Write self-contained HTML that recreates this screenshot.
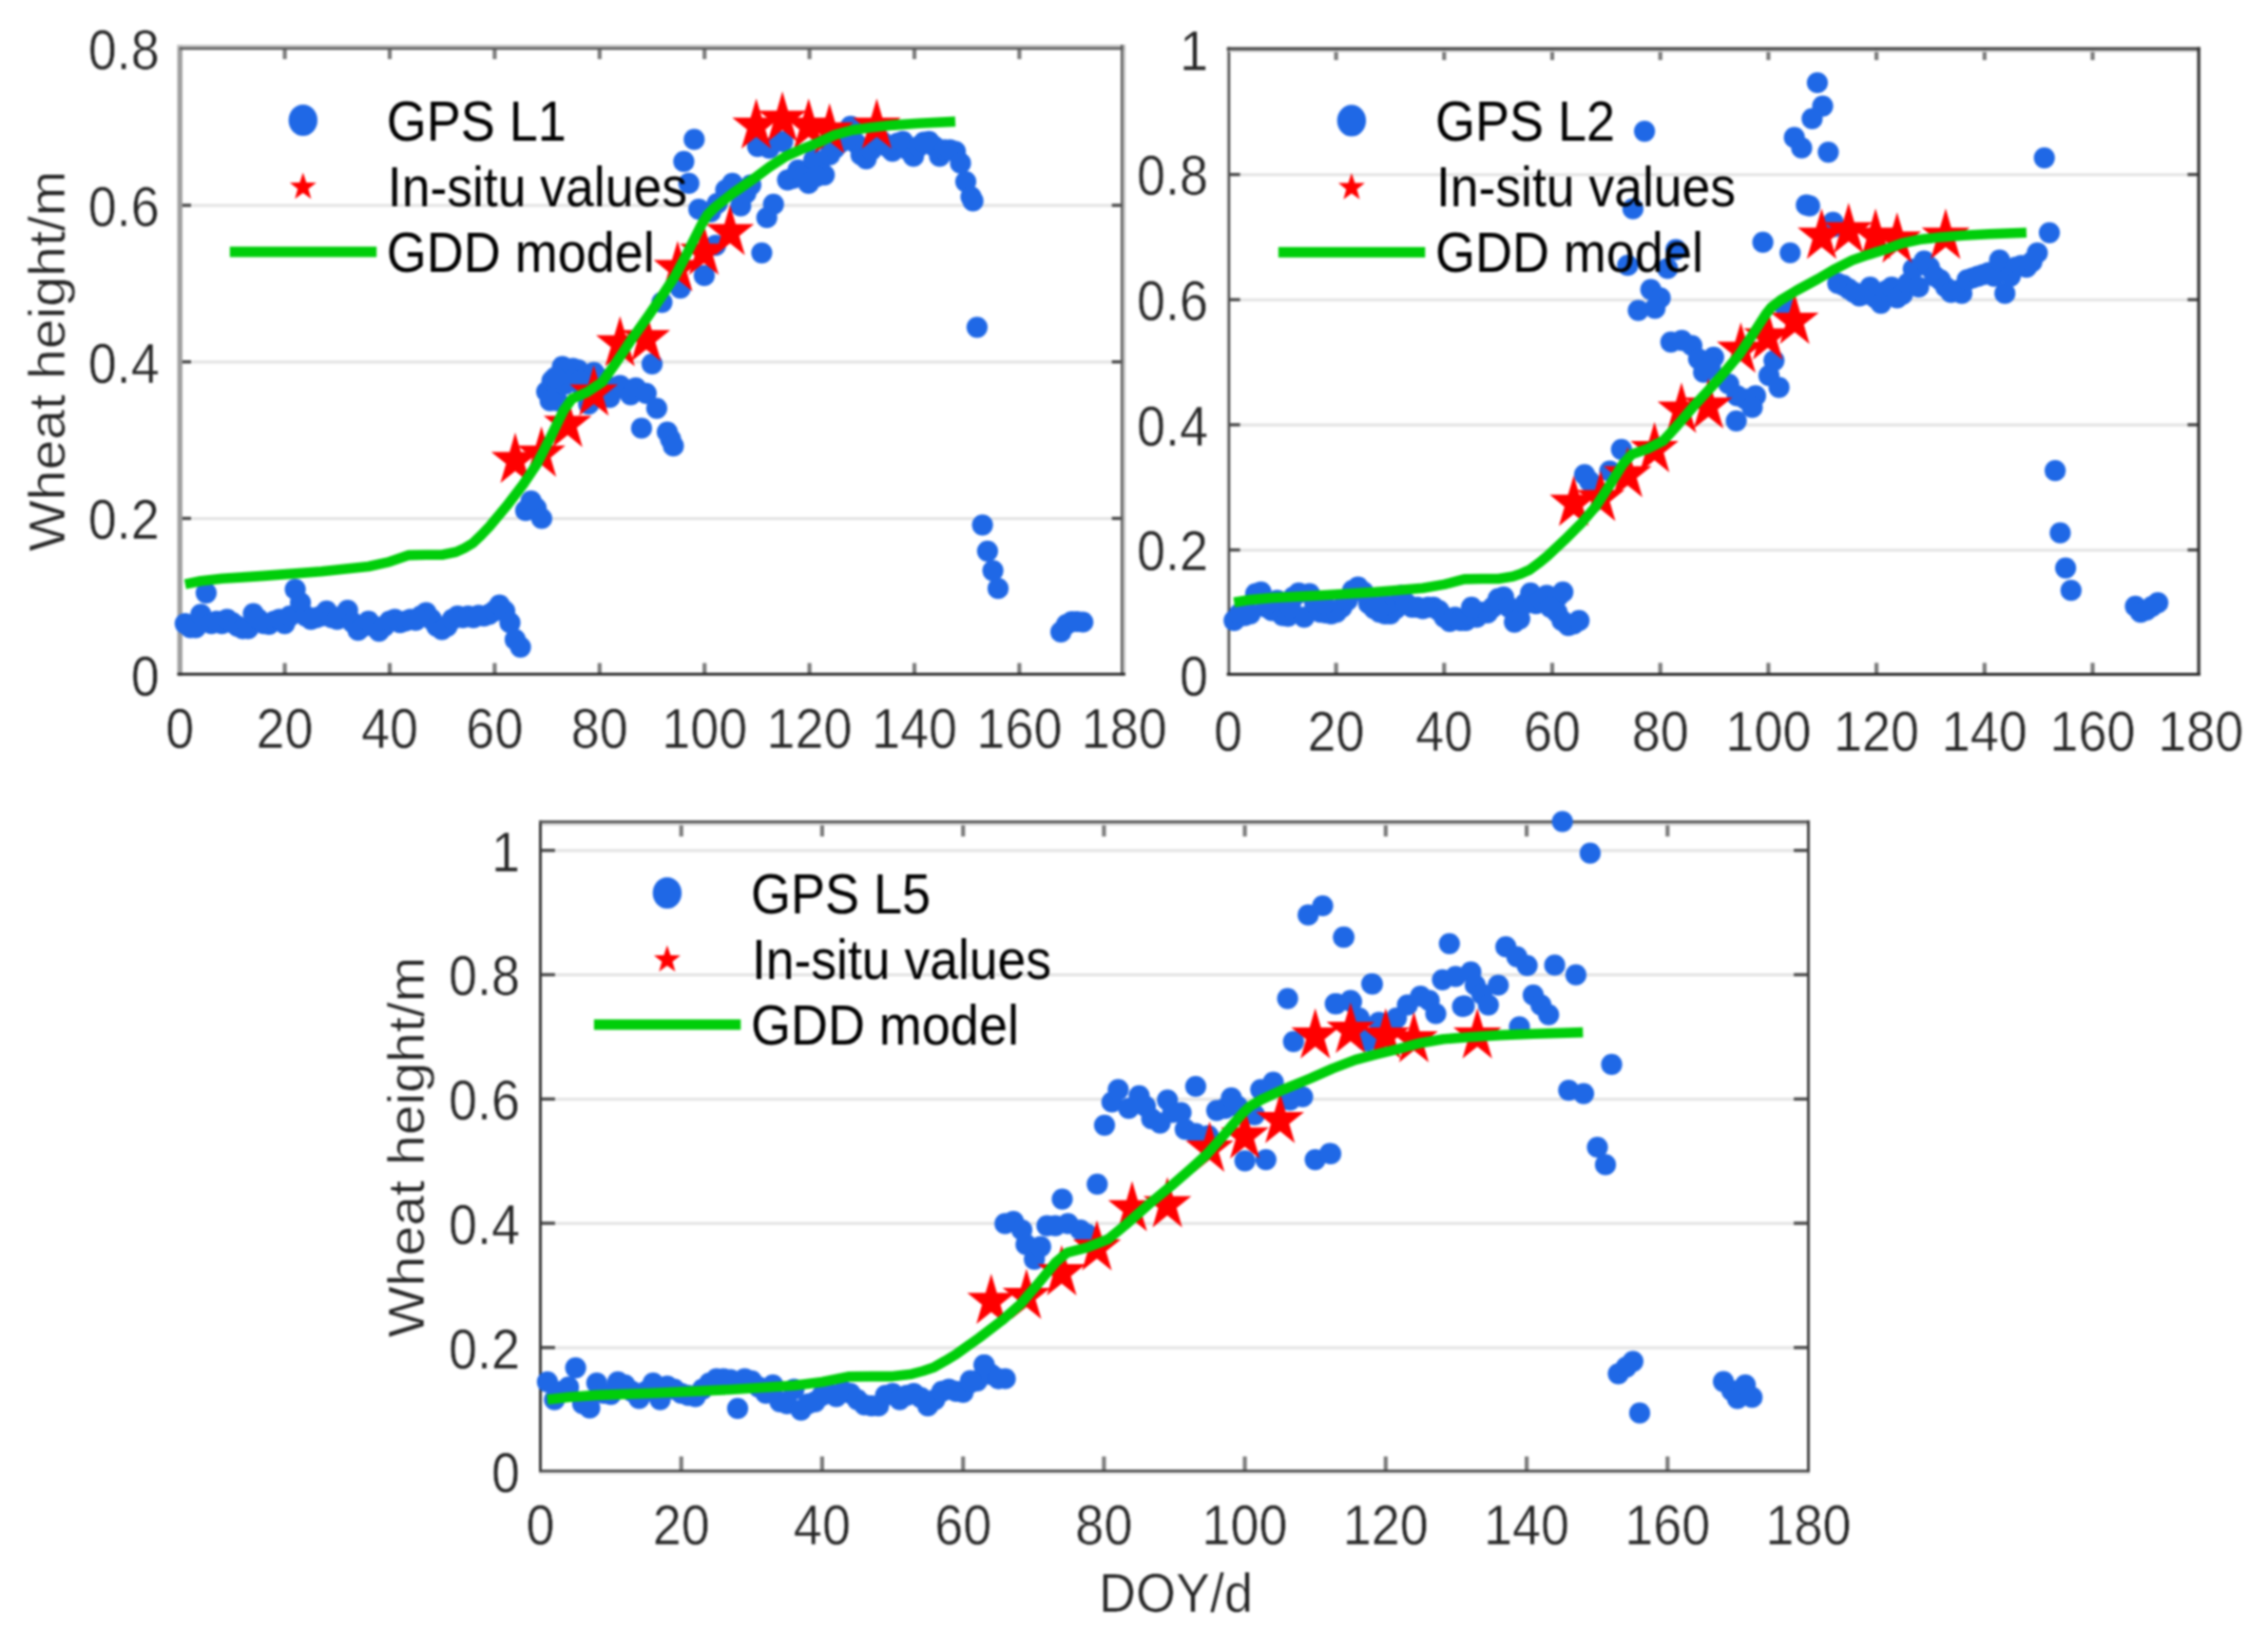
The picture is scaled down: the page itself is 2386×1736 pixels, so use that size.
<!DOCTYPE html>
<html><head><meta charset="utf-8"><title>Wheat height</title>
<style>html,body{margin:0;padding:0;background:#fff}svg{display:block;filter:blur(0.8px)}</style></head>
<body>
<svg width="2386" height="1736" viewBox="0 0 2386 1736" font-family="Liberation Sans, sans-serif" font-size="54">
<rect x="189.3" y="544.0" width="992.1" height="3.2" fill="#e4e4e4"/>
<rect x="189.3" y="379.3" width="992.1" height="3.2" fill="#e4e4e4"/>
<rect x="189.3" y="214.6" width="992.1" height="3.2" fill="#e4e4e4"/>
<g stroke="#7a7a7a" stroke-width="4.2">
<line x1="299.6" y1="709.3" x2="299.6" y2="697.6"/>
<line x1="299.6" y1="50.5" x2="299.6" y2="62.2"/>
<line x1="410.0" y1="709.3" x2="410.0" y2="697.6"/>
<line x1="410.0" y1="50.5" x2="410.0" y2="62.2"/>
<line x1="520.4" y1="709.3" x2="520.4" y2="697.6"/>
<line x1="520.4" y1="50.5" x2="520.4" y2="62.2"/>
<line x1="630.8" y1="709.3" x2="630.8" y2="697.6"/>
<line x1="630.8" y1="50.5" x2="630.8" y2="62.2"/>
<line x1="741.2" y1="709.3" x2="741.2" y2="697.6"/>
<line x1="741.2" y1="50.5" x2="741.2" y2="62.2"/>
<line x1="851.6" y1="709.3" x2="851.6" y2="697.6"/>
<line x1="851.6" y1="50.5" x2="851.6" y2="62.2"/>
<line x1="962.0" y1="709.3" x2="962.0" y2="697.6"/>
<line x1="962.0" y1="50.5" x2="962.0" y2="62.2"/>
<line x1="1072.4" y1="709.3" x2="1072.4" y2="697.6"/>
<line x1="1072.4" y1="50.5" x2="1072.4" y2="62.2"/>
</g><g stroke="#4a4a4a" stroke-width="3.4">
<line x1="189.3" y1="545.4" x2="201.0" y2="545.4"/>
<line x1="1181.4" y1="545.4" x2="1169.7" y2="545.4"/>
<line x1="189.3" y1="380.7" x2="201.0" y2="380.7"/>
<line x1="1181.4" y1="380.7" x2="1169.7" y2="380.7"/>
<line x1="189.3" y1="216.0" x2="201.0" y2="216.0"/>
<line x1="1181.4" y1="216.0" x2="1169.7" y2="216.0"/>
</g>
<rect x="186.6" y="47.1" width="5.3" height="664.0" fill="#9e9e9e"/>
<rect x="186.6" y="47.1" width="997.3" height="2.6" fill="#c4c4c4"/>
<rect x="189.0" y="49.7" width="994.9" height="2.7" fill="#555"/>
<rect x="1179.0" y="47.1" width="2.6" height="663.7" fill="#555"/>
<rect x="1181.6" y="47.1" width="2.3" height="663.7" fill="#bdbdbd"/>
<rect x="186.6" y="707.8" width="997.3" height="3.0" fill="#2a2a2a"/>
<g fill="#1f68e6">
<circle cx="194.8" cy="656.1" r="11.1"/>
<circle cx="200.3" cy="660.5" r="11.1"/>
<circle cx="205.8" cy="660.5" r="11.1"/>
<circle cx="211.3" cy="646.4" r="11.1"/>
<circle cx="216.9" cy="623.8" r="11.1"/>
<circle cx="222.4" cy="656.1" r="11.1"/>
<circle cx="227.9" cy="653.5" r="11.1"/>
<circle cx="233.4" cy="656.1" r="11.1"/>
<circle cx="238.9" cy="651.7" r="11.1"/>
<circle cx="244.4" cy="655.2" r="11.1"/>
<circle cx="249.9" cy="658.8" r="11.1"/>
<circle cx="255.4" cy="661.4" r="11.1"/>
<circle cx="261.0" cy="661.4" r="11.1"/>
<circle cx="266.5" cy="645.5" r="11.1"/>
<circle cx="272.0" cy="651.7" r="11.1"/>
<circle cx="277.5" cy="656.1" r="11.1"/>
<circle cx="283.0" cy="657.0" r="11.1"/>
<circle cx="288.5" cy="653.5" r="11.1"/>
<circle cx="294.0" cy="651.7" r="11.1"/>
<circle cx="299.5" cy="656.1" r="11.1"/>
<circle cx="305.0" cy="648.2" r="11.1"/>
<circle cx="310.6" cy="620.0" r="11.1"/>
<circle cx="316.1" cy="634.1" r="11.1"/>
<circle cx="321.6" cy="648.2" r="11.1"/>
<circle cx="327.1" cy="651.7" r="11.1"/>
<circle cx="332.6" cy="649.9" r="11.1"/>
<circle cx="338.1" cy="648.2" r="11.1"/>
<circle cx="343.6" cy="642.9" r="11.1"/>
<circle cx="349.1" cy="649.9" r="11.1"/>
<circle cx="354.7" cy="651.7" r="11.1"/>
<circle cx="360.2" cy="648.2" r="11.1"/>
<circle cx="365.7" cy="642.0" r="11.1"/>
<circle cx="371.2" cy="655.2" r="11.1"/>
<circle cx="376.7" cy="663.2" r="11.1"/>
<circle cx="382.2" cy="658.8" r="11.1"/>
<circle cx="387.7" cy="653.5" r="11.1"/>
<circle cx="393.2" cy="658.8" r="11.1"/>
<circle cx="398.7" cy="664.1" r="11.1"/>
<circle cx="404.3" cy="658.8" r="11.1"/>
<circle cx="409.8" cy="653.5" r="11.1"/>
<circle cx="415.3" cy="651.7" r="11.1"/>
<circle cx="420.8" cy="655.2" r="11.1"/>
<circle cx="426.3" cy="653.5" r="11.1"/>
<circle cx="431.8" cy="651.7" r="11.1"/>
<circle cx="437.3" cy="652.6" r="11.1"/>
<circle cx="442.8" cy="648.2" r="11.1"/>
<circle cx="448.3" cy="644.7" r="11.1"/>
<circle cx="453.9" cy="651.7" r="11.1"/>
<circle cx="459.4" cy="658.8" r="11.1"/>
<circle cx="464.9" cy="662.3" r="11.1"/>
<circle cx="470.4" cy="658.8" r="11.1"/>
<circle cx="475.9" cy="651.7" r="11.1"/>
<circle cx="481.4" cy="648.2" r="11.1"/>
<circle cx="486.9" cy="649.9" r="11.1"/>
<circle cx="492.4" cy="648.2" r="11.1"/>
<circle cx="498.0" cy="649.9" r="11.1"/>
<circle cx="503.5" cy="647.3" r="11.1"/>
<circle cx="509.0" cy="648.2" r="11.1"/>
<circle cx="514.5" cy="646.4" r="11.1"/>
<circle cx="520.0" cy="642.9" r="11.1"/>
<circle cx="525.5" cy="636.7" r="11.1"/>
<circle cx="531.0" cy="642.9" r="11.1"/>
<circle cx="536.5" cy="655.2" r="11.1"/>
<circle cx="542.0" cy="672.9" r="11.1"/>
<circle cx="547.6" cy="680.8" r="11.1"/>
<circle cx="553.0" cy="537.2" r="11.1"/>
<circle cx="558.7" cy="527.2" r="11.1"/>
<circle cx="564.1" cy="534.6" r="11.1"/>
<circle cx="569.9" cy="545.5" r="11.1"/>
<circle cx="575.1" cy="412.0" r="11.1"/>
<circle cx="580.7" cy="400.5" r="11.1"/>
<circle cx="586.2" cy="421.7" r="11.1"/>
<circle cx="591.6" cy="385.7" r="11.1"/>
<circle cx="597.1" cy="388.2" r="11.1"/>
<circle cx="602.8" cy="387.5" r="11.1"/>
<circle cx="608.2" cy="389.1" r="11.1"/>
<circle cx="613.7" cy="411.1" r="11.1"/>
<circle cx="619.3" cy="425.2" r="11.1"/>
<circle cx="624.8" cy="391.9" r="11.1"/>
<circle cx="630.3" cy="397.9" r="11.1"/>
<circle cx="635.7" cy="414.7" r="11.1"/>
<circle cx="641.4" cy="418.2" r="11.1"/>
<circle cx="646.8" cy="407.6" r="11.1"/>
<circle cx="652.3" cy="405.5" r="11.1"/>
<circle cx="657.8" cy="409.4" r="11.1"/>
<circle cx="663.4" cy="415.5" r="11.1"/>
<circle cx="668.9" cy="408.0" r="11.1"/>
<circle cx="674.9" cy="450.5" r="11.1"/>
<circle cx="679.8" cy="413.8" r="11.1"/>
<circle cx="686.0" cy="382.9" r="11.1"/>
<circle cx="690.9" cy="429.6" r="11.1"/>
<circle cx="702.0" cy="454.5" r="11.1"/>
<circle cx="705.4" cy="461.9" r="11.1"/>
<circle cx="708.4" cy="469.2" r="11.1"/>
<circle cx="585.8" cy="409.4" r="11.1"/>
<circle cx="594.6" cy="404.1" r="11.1"/>
<circle cx="603.5" cy="398.8" r="11.1"/>
<circle cx="578.8" cy="421.7" r="11.1"/>
<circle cx="584.1" cy="397.0" r="11.1"/>
<circle cx="610.5" cy="400.5" r="11.1"/>
<circle cx="730.3" cy="146.7" r="11.1"/>
<circle cx="719.4" cy="169.9" r="11.1"/>
<circle cx="724.7" cy="192.9" r="11.1"/>
<circle cx="735.2" cy="220.2" r="11.1"/>
<circle cx="747.6" cy="222.9" r="11.1"/>
<circle cx="754.6" cy="214.0" r="11.1"/>
<circle cx="763.5" cy="199.9" r="11.1"/>
<circle cx="770.5" cy="192.9" r="11.1"/>
<circle cx="779.3" cy="216.7" r="11.1"/>
<circle cx="789.9" cy="194.6" r="11.1"/>
<circle cx="784.6" cy="203.5" r="11.1"/>
<circle cx="813.7" cy="214.9" r="11.1"/>
<circle cx="806.7" cy="229.0" r="11.1"/>
<circle cx="801.4" cy="266.1" r="11.1"/>
<circle cx="740.9" cy="289.9" r="11.1"/>
<circle cx="715.8" cy="303.1" r="11.1"/>
<circle cx="696.4" cy="318.1" r="11.1"/>
<circle cx="752.9" cy="258.1" r="11.1"/>
<circle cx="797.0" cy="154.1" r="11.1"/>
<circle cx="809.3" cy="155.8" r="11.1"/>
<circle cx="823.4" cy="148.8" r="11.1"/>
<circle cx="874.6" cy="157.6" r="11.1"/>
<circle cx="828.5" cy="189.3" r="11.1"/>
<circle cx="834.2" cy="187.6" r="11.1"/>
<circle cx="839.6" cy="178.8" r="11.1"/>
<circle cx="845.1" cy="185.8" r="11.1"/>
<circle cx="850.6" cy="192.9" r="11.1"/>
<circle cx="856.2" cy="168.2" r="11.1"/>
<circle cx="861.7" cy="175.2" r="11.1"/>
<circle cx="867.2" cy="184.1" r="11.1"/>
<circle cx="872.8" cy="162.9" r="11.1"/>
<circle cx="858.7" cy="185.8" r="11.1"/>
<circle cx="878.3" cy="155.8" r="11.1"/>
<circle cx="883.7" cy="150.5" r="11.1"/>
<circle cx="889.2" cy="147.0" r="11.1"/>
<circle cx="894.9" cy="132.9" r="11.1"/>
<circle cx="900.3" cy="150.5" r="11.1"/>
<circle cx="905.8" cy="162.9" r="11.1"/>
<circle cx="911.3" cy="167.1" r="11.1"/>
<circle cx="916.9" cy="157.6" r="11.1"/>
<circle cx="922.4" cy="150.5" r="11.1"/>
<circle cx="927.8" cy="148.8" r="11.1"/>
<circle cx="933.3" cy="154.1" r="11.1"/>
<circle cx="938.9" cy="159.2" r="11.1"/>
<circle cx="944.4" cy="150.5" r="11.1"/>
<circle cx="949.9" cy="148.8" r="11.1"/>
<circle cx="955.3" cy="157.6" r="11.1"/>
<circle cx="961.0" cy="164.5" r="11.1"/>
<circle cx="966.5" cy="154.1" r="11.1"/>
<circle cx="971.9" cy="149.7" r="11.1"/>
<circle cx="977.4" cy="148.8" r="11.1"/>
<circle cx="983.0" cy="154.1" r="11.1"/>
<circle cx="988.5" cy="164.5" r="11.1"/>
<circle cx="994.0" cy="157.6" r="11.1"/>
<circle cx="999.4" cy="157.6" r="11.1"/>
<circle cx="1005.1" cy="159.4" r="11.1"/>
<circle cx="1010.5" cy="171.7" r="11.1"/>
<circle cx="1016.0" cy="191.1" r="11.1"/>
<circle cx="1021.5" cy="207.0" r="11.1"/>
<circle cx="1023.6" cy="211.4" r="11.1"/>
<circle cx="1027.9" cy="344.3" r="11.1"/>
<circle cx="1033.6" cy="552.3" r="11.1"/>
<circle cx="1038.9" cy="579.8" r="11.1"/>
<circle cx="1044.6" cy="600.3" r="11.1"/>
<circle cx="1050.0" cy="619.2" r="11.1"/>
<circle cx="1116.1" cy="664.9" r="11.1"/>
<circle cx="1122.0" cy="657.0" r="11.1"/>
<circle cx="1127.5" cy="654.0" r="11.1"/>
<circle cx="1133.0" cy="654.0" r="11.1"/>
<circle cx="1139.2" cy="654.5" r="11.1"/>
</g>
<g fill="#ff0000">
<polygon points="542.0,455.1 548.0,475.4 567.3,475.4 551.7,488.0 557.7,508.3 542.0,495.7 526.4,508.3 532.4,488.0 516.7,475.4 536.1,475.4"/>
<polygon points="569.6,448.5 575.6,468.8 594.9,468.8 579.3,481.4 585.2,501.7 569.6,489.1 554.0,501.7 559.9,481.4 544.3,468.8 563.6,468.8"/>
<polygon points="597.2,417.2 603.1,437.5 622.5,437.5 606.8,450.1 612.8,470.4 597.2,457.8 581.5,470.4 587.5,450.1 571.9,437.5 591.2,437.5"/>
<polygon points="624.7,384.3 630.7,404.6 650.0,404.6 634.4,417.1 640.4,437.4 624.7,424.9 609.1,437.4 615.1,417.1 599.4,404.6 618.7,404.6"/>
<polygon points="652.3,332.4 658.3,352.7 677.6,352.7 661.9,365.3 667.9,385.6 652.3,373.0 636.6,385.6 642.6,365.3 627.0,352.7 646.3,352.7"/>
<polygon points="679.8,327.0 685.8,347.3 705.1,347.3 689.5,359.9 695.5,380.2 679.8,367.7 664.2,380.2 670.2,359.9 654.5,347.3 673.9,347.3"/>
<polygon points="712.9,253.3 718.9,273.6 738.2,273.6 722.6,286.2 728.5,306.5 712.9,294.0 697.3,306.5 703.2,286.2 687.6,273.6 706.9,273.6"/>
<polygon points="740.5,236.0 746.4,256.3 765.8,256.4 750.1,268.9 756.1,289.2 740.5,276.7 724.8,289.2 730.8,268.9 715.2,256.4 734.5,256.3"/>
<polygon points="768.0,215.5 774.0,235.8 793.3,235.8 777.7,248.3 783.7,268.6 768.0,256.1 752.4,268.6 758.4,248.3 742.7,235.8 762.1,235.8"/>
<polygon points="795.6,103.5 801.6,123.8 820.9,123.8 805.2,136.3 811.2,156.6 795.6,144.1 779.9,156.6 785.9,136.3 770.3,123.8 789.6,123.8"/>
<polygon points="823.1,96.0 829.1,116.4 848.4,116.4 832.8,128.9 838.8,149.2 823.1,136.7 807.5,149.2 813.5,128.9 797.8,116.4 817.2,116.4"/>
<polygon points="850.7,103.5 856.7,123.8 876.0,123.8 860.4,136.3 866.3,156.6 850.7,144.1 835.1,156.6 841.0,136.3 825.4,123.8 844.7,123.8"/>
<polygon points="872.7,108.4 878.7,128.7 898.0,128.7 882.4,141.3 888.4,161.6 872.7,149.0 857.1,161.6 863.1,141.3 847.4,128.7 866.8,128.7"/>
<polygon points="922.4,103.5 928.3,123.8 947.6,123.8 932.0,136.3 938.0,156.6 922.4,144.1 906.7,156.6 912.7,136.3 897.1,123.8 916.4,123.8"/>
</g>
<polyline points="194.8,614.6 211.3,611.3 233.4,608.7 277.5,605.9 338.1,601.3 387.7,596.0 409.8,591.1 430.2,584.1 448.3,583.7 464.9,583.7 479.8,580.7 488.6,576.7 497.4,571.5 506.2,563.1 515.0,553.9 532.7,532.7 550.3,509.8 564.6,488.5 579.0,460.4 592.8,432.1 601.6,419.7 617.6,412.7 633.5,402.1 647.3,382.7 665.0,356.3 682.6,331.6 698.0,309.0 710.7,289.6 722.8,266.7 731.6,249.0 738.8,234.9 744.3,226.1 753.1,217.3 770.2,203.9 791.7,188.9 809.4,175.7 827.0,164.3 843.0,157.2 860.6,150.1 877.7,142.1 895.9,137.0 915.2,134.3 940.0,131.6 966.4,129.8 1005.0,127.9" fill="none" stroke="#00ce0a" stroke-width="10.6" stroke-linejoin="round"/>
<text transform="translate(189.2,786.5) scale(1,1.100)" text-anchor="middle" fill="#262626" stroke="#fff" stroke-width="0.55">0</text>
<text transform="translate(299.6,786.5) scale(1,1.100)" text-anchor="middle" fill="#262626" stroke="#fff" stroke-width="0.55">20</text>
<text transform="translate(410.0,786.5) scale(1,1.100)" text-anchor="middle" fill="#262626" stroke="#fff" stroke-width="0.55">40</text>
<text transform="translate(520.4,786.5) scale(1,1.100)" text-anchor="middle" fill="#262626" stroke="#fff" stroke-width="0.55">60</text>
<text transform="translate(630.8,786.5) scale(1,1.100)" text-anchor="middle" fill="#262626" stroke="#fff" stroke-width="0.55">80</text>
<text transform="translate(741.2,786.5) scale(1,1.100)" text-anchor="middle" fill="#262626" stroke="#fff" stroke-width="0.55">100</text>
<text transform="translate(851.6,786.5) scale(1,1.100)" text-anchor="middle" fill="#262626" stroke="#fff" stroke-width="0.55">120</text>
<text transform="translate(962.0,786.5) scale(1,1.100)" text-anchor="middle" fill="#262626" stroke="#fff" stroke-width="0.55">140</text>
<text transform="translate(1072.4,786.5) scale(1,1.100)" text-anchor="middle" fill="#262626" stroke="#fff" stroke-width="0.55">160</text>
<text transform="translate(1182.8,786.5) scale(1,1.100)" text-anchor="middle" fill="#262626" stroke="#fff" stroke-width="0.55">180</text>
<text transform="translate(167.8,731.9) scale(1,1.100)" text-anchor="end" fill="#262626" stroke="#fff" stroke-width="0.55">0</text>
<text transform="translate(167.8,567.2) scale(1,1.100)" text-anchor="end" fill="#262626" stroke="#fff" stroke-width="0.55">0.2</text>
<text transform="translate(167.8,402.5) scale(1,1.100)" text-anchor="end" fill="#262626" stroke="#fff" stroke-width="0.55">0.4</text>
<text transform="translate(167.8,237.8) scale(1,1.100)" text-anchor="end" fill="#262626" stroke="#fff" stroke-width="0.55">0.6</text>
<text transform="translate(167.8,73.1) scale(1,1.100)" text-anchor="end" fill="#262626" stroke="#fff" stroke-width="0.55">0.8</text>
<ellipse cx="318.8" cy="126.5" rx="15.2" ry="16.6" fill="#1f68e6"/>
<polygon points="318.8,181.6 322.3,192.0 332.8,192.2 324.4,198.8 327.4,209.3 318.8,203.0 310.2,209.3 313.2,198.8 304.8,192.2 315.3,192.0" fill="#ff0000"/>
<rect x="241.8" y="259.5" width="154.4" height="11" fill="#00ce0a"/>
<text transform="translate(406.8,147.7) scale(1,1.100)" text-anchor="start" fill="#000">GPS L1</text>
<text transform="translate(407.8,216.7) scale(1,1.110)" text-anchor="start" fill="#000" font-size="53.5">In-situ values</text>
<text transform="translate(406.8,286.0) scale(1,1.100)" text-anchor="start" fill="#000">GDD model</text>
<rect x="1292.6" y="577.2" width="1020.8" height="3.2" fill="#e4e4e4"/>
<rect x="1292.6" y="445.5" width="1020.8" height="3.2" fill="#e4e4e4"/>
<rect x="1292.6" y="313.9" width="1020.8" height="3.2" fill="#e4e4e4"/>
<rect x="1292.6" y="182.2" width="1020.8" height="3.2" fill="#e4e4e4"/>
<g stroke="#7a7a7a" stroke-width="4.2">
<line x1="1405.6" y1="709.4" x2="1405.6" y2="697.4"/>
<line x1="1405.6" y1="51.2" x2="1405.6" y2="63.2"/>
<line x1="1519.3" y1="709.4" x2="1519.3" y2="697.4"/>
<line x1="1519.3" y1="51.2" x2="1519.3" y2="63.2"/>
<line x1="1633.0" y1="709.4" x2="1633.0" y2="697.4"/>
<line x1="1633.0" y1="51.2" x2="1633.0" y2="63.2"/>
<line x1="1746.7" y1="709.4" x2="1746.7" y2="697.4"/>
<line x1="1746.7" y1="51.2" x2="1746.7" y2="63.2"/>
<line x1="1860.4" y1="709.4" x2="1860.4" y2="697.4"/>
<line x1="1860.4" y1="51.2" x2="1860.4" y2="63.2"/>
<line x1="1974.1" y1="709.4" x2="1974.1" y2="697.4"/>
<line x1="1974.1" y1="51.2" x2="1974.1" y2="63.2"/>
<line x1="2087.8" y1="709.4" x2="2087.8" y2="697.4"/>
<line x1="2087.8" y1="51.2" x2="2087.8" y2="63.2"/>
<line x1="2201.5" y1="709.4" x2="2201.5" y2="697.4"/>
<line x1="2201.5" y1="51.2" x2="2201.5" y2="63.2"/>
</g><g stroke="#4a4a4a" stroke-width="3.4">
<line x1="1292.6" y1="578.6" x2="1304.6" y2="578.6"/>
<line x1="2313.4" y1="578.6" x2="2301.4" y2="578.6"/>
<line x1="1292.6" y1="446.9" x2="1304.6" y2="446.9"/>
<line x1="2313.4" y1="446.9" x2="2301.4" y2="446.9"/>
<line x1="1292.6" y1="315.3" x2="1304.6" y2="315.3"/>
<line x1="2313.4" y1="315.3" x2="2301.4" y2="315.3"/>
<line x1="1292.6" y1="183.6" x2="1304.6" y2="183.6"/>
<line x1="2313.4" y1="183.6" x2="2301.4" y2="183.6"/>
</g>
<rect x="1290.7" y="49.6" width="1.4" height="661.4" fill="#b0b0b0"/>
<rect x="1292.0" y="49.6" width="2.2" height="661.4" fill="#4a4a4a"/>
<rect x="1290.7" y="49.6" width="1024.1" height="3.3" fill="#444"/>
<rect x="1293.0" y="52.9" width="1020.0" height="2.0" fill="#d0d0d0"/>
<rect x="2311.5" y="49.6" width="3.3" height="661.4" fill="#333"/>
<rect x="1290.7" y="707.9" width="1024.1" height="3.1" fill="#2a2a2a"/>
<g fill="#1f68e6">
<circle cx="1298.3" cy="652.9" r="11.1"/>
<circle cx="1303.9" cy="645.8" r="11.1"/>
<circle cx="1309.6" cy="647.6" r="11.1"/>
<circle cx="1315.3" cy="645.8" r="11.1"/>
<circle cx="1321.0" cy="624.7" r="11.1"/>
<circle cx="1326.6" cy="622.9" r="11.1"/>
<circle cx="1332.3" cy="638.8" r="11.1"/>
<circle cx="1338.0" cy="642.3" r="11.1"/>
<circle cx="1343.6" cy="631.7" r="11.1"/>
<circle cx="1349.3" cy="647.6" r="11.1"/>
<circle cx="1355.0" cy="648.5" r="11.1"/>
<circle cx="1360.7" cy="628.2" r="11.1"/>
<circle cx="1366.3" cy="623.8" r="11.1"/>
<circle cx="1372.0" cy="649.3" r="11.1"/>
<circle cx="1377.7" cy="624.7" r="11.1"/>
<circle cx="1383.3" cy="635.2" r="11.1"/>
<circle cx="1389.0" cy="644.1" r="11.1"/>
<circle cx="1394.7" cy="644.9" r="11.1"/>
<circle cx="1400.4" cy="645.8" r="11.1"/>
<circle cx="1406.0" cy="644.1" r="11.1"/>
<circle cx="1411.7" cy="638.8" r="11.1"/>
<circle cx="1417.4" cy="631.7" r="11.1"/>
<circle cx="1423.0" cy="621.1" r="11.1"/>
<circle cx="1428.7" cy="617.6" r="11.1"/>
<circle cx="1434.4" cy="622.9" r="11.1"/>
<circle cx="1440.0" cy="635.2" r="11.1"/>
<circle cx="1445.7" cy="640.5" r="11.1"/>
<circle cx="1451.4" cy="644.1" r="11.1"/>
<circle cx="1457.1" cy="645.8" r="11.1"/>
<circle cx="1462.7" cy="645.8" r="11.1"/>
<circle cx="1468.4" cy="640.5" r="11.1"/>
<circle cx="1474.1" cy="626.4" r="11.1"/>
<circle cx="1479.7" cy="635.2" r="11.1"/>
<circle cx="1485.4" cy="638.8" r="11.1"/>
<circle cx="1491.1" cy="638.8" r="11.1"/>
<circle cx="1496.8" cy="640.5" r="11.1"/>
<circle cx="1502.4" cy="638.8" r="11.1"/>
<circle cx="1508.1" cy="638.8" r="11.1"/>
<circle cx="1513.8" cy="642.3" r="11.1"/>
<circle cx="1519.4" cy="649.3" r="11.1"/>
<circle cx="1525.1" cy="653.8" r="11.1"/>
<circle cx="1530.8" cy="649.3" r="11.1"/>
<circle cx="1536.5" cy="652.9" r="11.1"/>
<circle cx="1542.1" cy="652.9" r="11.1"/>
<circle cx="1547.8" cy="647.6" r="11.1"/>
<circle cx="1553.5" cy="649.3" r="11.1"/>
<circle cx="1559.1" cy="644.1" r="11.1"/>
<circle cx="1564.8" cy="644.9" r="11.1"/>
<circle cx="1570.5" cy="638.8" r="11.1"/>
<circle cx="1576.2" cy="629.9" r="11.1"/>
<circle cx="1581.8" cy="628.2" r="11.1"/>
<circle cx="1587.5" cy="638.8" r="11.1"/>
<circle cx="1593.2" cy="654.6" r="11.1"/>
<circle cx="1598.8" cy="651.1" r="11.1"/>
<circle cx="1604.5" cy="635.2" r="11.1"/>
<circle cx="1610.2" cy="623.8" r="11.1"/>
<circle cx="1615.9" cy="635.2" r="11.1"/>
<circle cx="1621.5" cy="631.7" r="11.1"/>
<circle cx="1627.2" cy="626.4" r="11.1"/>
<circle cx="1632.9" cy="638.8" r="11.1"/>
<circle cx="1638.5" cy="628.2" r="11.1"/>
<circle cx="1644.2" cy="622.9" r="11.1"/>
<circle cx="1649.9" cy="658.2" r="11.1"/>
<circle cx="1655.6" cy="656.4" r="11.1"/>
<circle cx="1661.2" cy="652.9" r="11.1"/>
<circle cx="1357.6" cy="638.8" r="11.1"/>
<circle cx="1456.4" cy="636.1" r="11.1"/>
<circle cx="1449.3" cy="640.5" r="11.1"/>
<circle cx="1638.0" cy="644.1" r="11.1"/>
<circle cx="1643.3" cy="652.9" r="11.1"/>
<circle cx="1631.0" cy="638.8" r="11.1"/>
<circle cx="1548.1" cy="638.8" r="11.1"/>
<circle cx="1332.9" cy="635.2" r="11.1"/>
<circle cx="1392.9" cy="635.2" r="11.1"/>
<circle cx="1667.0" cy="499.3" r="11.1"/>
<circle cx="1672.3" cy="506.3" r="11.1"/>
<circle cx="1705.8" cy="472.8" r="11.1"/>
<circle cx="1693.5" cy="495.7" r="11.1"/>
<circle cx="1757.8" cy="359.9" r="11.1"/>
<circle cx="1769.3" cy="358.2" r="11.1"/>
<circle cx="1779.9" cy="363.5" r="11.1"/>
<circle cx="1786.9" cy="377.6" r="11.1"/>
<circle cx="1792.2" cy="391.7" r="11.1"/>
<circle cx="1802.8" cy="375.8" r="11.1"/>
<circle cx="1799.3" cy="386.4" r="11.1"/>
<circle cx="1818.7" cy="404.0" r="11.1"/>
<circle cx="1827.5" cy="416.4" r="11.1"/>
<circle cx="1836.3" cy="419.9" r="11.1"/>
<circle cx="1846.9" cy="416.4" r="11.1"/>
<circle cx="1843.4" cy="428.7" r="11.1"/>
<circle cx="1826.6" cy="442.8" r="11.1"/>
<circle cx="1861.0" cy="395.2" r="11.1"/>
<circle cx="1866.3" cy="379.3" r="11.1"/>
<circle cx="1871.6" cy="407.6" r="11.1"/>
<circle cx="1876.9" cy="321.1" r="11.1"/>
<circle cx="1730.1" cy="138.1" r="11.1"/>
<circle cx="1911.9" cy="87.0" r="11.1"/>
<circle cx="1917.5" cy="111.6" r="11.1"/>
<circle cx="1906.4" cy="124.9" r="11.1"/>
<circle cx="1887.7" cy="144.7" r="11.1"/>
<circle cx="1895.4" cy="155.7" r="11.1"/>
<circle cx="1923.4" cy="160.1" r="11.1"/>
<circle cx="1900.3" cy="215.7" r="11.1"/>
<circle cx="1854.6" cy="254.9" r="11.1"/>
<circle cx="1883.3" cy="266.0" r="11.1"/>
<circle cx="1929.6" cy="238.4" r="11.1"/>
<circle cx="1717.9" cy="219.7" r="11.1"/>
<circle cx="1763.1" cy="262.7" r="11.1"/>
<circle cx="1712.4" cy="279.2" r="11.1"/>
<circle cx="1754.3" cy="282.5" r="11.1"/>
<circle cx="1736.7" cy="304.6" r="11.1"/>
<circle cx="1746.6" cy="313.4" r="11.1"/>
<circle cx="1723.5" cy="326.6" r="11.1"/>
<circle cx="1741.1" cy="324.4" r="11.1"/>
<circle cx="1933.4" cy="298.2" r="11.1"/>
<circle cx="1939.1" cy="300.1" r="11.1"/>
<circle cx="1944.8" cy="303.9" r="11.1"/>
<circle cx="1950.4" cy="307.7" r="11.1"/>
<circle cx="1956.1" cy="311.5" r="11.1"/>
<circle cx="1961.8" cy="309.6" r="11.1"/>
<circle cx="1967.5" cy="302.0" r="11.1"/>
<circle cx="1973.1" cy="313.4" r="11.1"/>
<circle cx="1978.8" cy="319.1" r="11.1"/>
<circle cx="1984.5" cy="305.8" r="11.1"/>
<circle cx="1990.1" cy="302.0" r="11.1"/>
<circle cx="1995.8" cy="313.4" r="11.1"/>
<circle cx="2001.5" cy="309.6" r="11.1"/>
<circle cx="2007.2" cy="298.2" r="11.1"/>
<circle cx="2012.8" cy="283.1" r="11.1"/>
<circle cx="2018.5" cy="302.0" r="11.1"/>
<circle cx="2024.2" cy="274.5" r="11.1"/>
<circle cx="2029.8" cy="281.2" r="11.1"/>
<circle cx="2035.5" cy="290.6" r="11.1"/>
<circle cx="2041.2" cy="294.4" r="11.1"/>
<circle cx="2046.9" cy="302.0" r="11.1"/>
<circle cx="2052.5" cy="307.7" r="11.1"/>
<circle cx="2058.2" cy="305.8" r="11.1"/>
<circle cx="2063.9" cy="308.7" r="11.1"/>
<circle cx="2069.5" cy="294.4" r="11.1"/>
<circle cx="2075.2" cy="292.5" r="11.1"/>
<circle cx="2080.9" cy="290.6" r="11.1"/>
<circle cx="2086.6" cy="288.8" r="11.1"/>
<circle cx="2092.2" cy="286.9" r="11.1"/>
<circle cx="2097.9" cy="290.6" r="11.1"/>
<circle cx="2103.6" cy="273.6" r="11.1"/>
<circle cx="2109.2" cy="308.7" r="11.1"/>
<circle cx="2114.9" cy="290.6" r="11.1"/>
<circle cx="2120.6" cy="281.2" r="11.1"/>
<circle cx="2126.3" cy="279.3" r="11.1"/>
<circle cx="2131.9" cy="281.2" r="11.1"/>
<circle cx="2137.6" cy="275.5" r="11.1"/>
<circle cx="2143.3" cy="266.0" r="11.1"/>
<circle cx="2150.7" cy="166.1" r="11.1"/>
<circle cx="2156.0" cy="244.8" r="11.1"/>
<circle cx="1903.8" cy="216.7" r="11.1"/>
<circle cx="1928.4" cy="233.8" r="11.1"/>
<circle cx="2162.1" cy="495.2" r="11.1"/>
<circle cx="2167.4" cy="560.7" r="11.1"/>
<circle cx="2173.1" cy="597.6" r="11.1"/>
<circle cx="2178.8" cy="621.2" r="11.1"/>
<circle cx="2246.5" cy="637.9" r="11.1"/>
<circle cx="2252.0" cy="644.2" r="11.1"/>
<circle cx="2258.0" cy="642.0" r="11.1"/>
<circle cx="2264.0" cy="638.0" r="11.1"/>
<circle cx="2270.1" cy="634.2" r="11.1"/>
</g>
<g fill="#ff0000">
<polygon points="1655.6,500.3 1661.5,520.6 1680.8,520.6 1665.2,533.2 1671.2,553.5 1655.6,540.9 1639.9,553.5 1645.9,533.2 1630.3,520.6 1649.6,520.6"/>
<polygon points="1683.9,495.1 1689.9,515.4 1709.2,515.4 1693.6,527.9 1699.5,548.2 1683.9,535.7 1668.3,548.2 1674.2,527.9 1658.6,515.4 1677.9,515.4"/>
<polygon points="1712.3,470.0 1718.2,490.4 1737.6,490.4 1721.9,502.9 1727.9,523.2 1712.3,510.7 1696.6,523.2 1702.6,502.9 1687.0,490.4 1706.3,490.4"/>
<polygon points="1740.6,443.7 1746.6,464.0 1765.9,464.0 1750.3,476.6 1756.3,496.9 1740.6,484.3 1725.0,496.9 1731.0,476.6 1715.3,464.0 1734.6,464.0"/>
<polygon points="1769.0,402.2 1774.9,422.6 1794.3,422.6 1778.6,435.1 1784.6,455.4 1769.0,442.9 1753.3,455.4 1759.3,435.1 1743.7,422.6 1763.0,422.6"/>
<polygon points="1797.3,398.0 1803.3,418.3 1822.6,418.3 1807.0,430.8 1813.0,451.1 1797.3,438.6 1781.7,451.1 1787.7,430.8 1772.0,418.3 1791.4,418.3"/>
<polygon points="1831.4,339.1 1837.3,359.4 1856.7,359.4 1841.0,371.9 1847.0,392.2 1831.4,379.7 1815.7,392.2 1821.7,371.9 1806.1,359.4 1825.4,359.4"/>
<polygon points="1859.7,325.2 1865.7,345.5 1885.0,345.5 1869.4,358.1 1875.3,378.4 1859.7,365.9 1844.1,378.4 1850.0,358.1 1834.4,345.5 1853.7,345.5"/>
<polygon points="1888.1,308.8 1894.0,329.1 1913.4,329.1 1897.7,341.6 1903.7,362.0 1888.1,349.4 1872.4,362.0 1878.4,341.6 1862.8,329.1 1882.1,329.1"/>
<polygon points="1916.4,219.3 1922.4,239.6 1941.7,239.6 1926.1,252.1 1932.1,272.4 1916.4,259.9 1900.8,272.4 1906.8,252.1 1891.1,239.6 1910.4,239.6"/>
<polygon points="1944.8,213.3 1950.8,233.7 1970.1,233.7 1954.4,246.2 1960.4,266.5 1944.8,254.0 1929.1,266.5 1935.1,246.2 1919.5,233.7 1938.8,233.7"/>
<polygon points="1973.1,219.3 1979.1,239.6 1998.4,239.6 1982.8,252.1 1988.8,272.4 1973.1,259.9 1957.5,272.4 1963.5,252.1 1947.8,239.6 1967.2,239.6"/>
<polygon points="1995.8,223.2 2001.8,243.5 2021.1,243.5 2005.5,256.1 2011.5,276.4 1995.8,263.8 1980.2,276.4 1986.2,256.1 1970.5,243.5 1989.8,243.5"/>
<polygon points="2046.9,219.3 2052.8,239.6 2072.2,239.6 2056.5,252.1 2062.5,272.4 2046.9,259.9 2031.2,272.4 2037.2,252.1 2021.6,239.6 2040.9,239.6"/>
</g>
<polyline points="1298.3,633.7 1315.3,631.1 1338.0,629.0 1383.3,626.7 1445.7,623.0 1496.8,618.8 1519.4,614.9 1540.4,609.4 1559.1,609.0 1576.2,609.0 1591.5,606.6 1600.5,603.4 1609.6,599.3 1618.7,592.6 1627.8,585.2 1645.9,568.2 1664.1,549.9 1678.8,532.9 1693.5,510.4 1707.7,487.8 1716.8,477.9 1733.2,472.3 1749.7,463.8 1763.9,448.4 1782.0,427.2 1800.2,407.5 1816.0,389.4 1829.1,373.9 1841.6,355.6 1850.6,341.5 1858.0,330.2 1863.7,323.2 1872.8,316.1 1890.3,305.5 1912.5,293.5 1930.6,282.9 1948.7,273.8 1965.2,268.1 1983.3,262.4 2000.9,256.0 2019.6,252.0 2039.5,249.8 2065.0,247.7 2092.2,246.2 2131.9,244.7" fill="none" stroke="#00ce0a" stroke-width="10.6" stroke-linejoin="round"/>
<text transform="translate(1291.9,790.1) scale(1,1.100)" text-anchor="middle" fill="#262626" stroke="#fff" stroke-width="0.55">0</text>
<text transform="translate(1405.6,790.1) scale(1,1.100)" text-anchor="middle" fill="#262626" stroke="#fff" stroke-width="0.55">20</text>
<text transform="translate(1519.3,790.1) scale(1,1.100)" text-anchor="middle" fill="#262626" stroke="#fff" stroke-width="0.55">40</text>
<text transform="translate(1633.0,790.1) scale(1,1.100)" text-anchor="middle" fill="#262626" stroke="#fff" stroke-width="0.55">60</text>
<text transform="translate(1746.7,790.1) scale(1,1.100)" text-anchor="middle" fill="#262626" stroke="#fff" stroke-width="0.55">80</text>
<text transform="translate(1860.4,790.1) scale(1,1.100)" text-anchor="middle" fill="#262626" stroke="#fff" stroke-width="0.55">100</text>
<text transform="translate(1974.1,790.1) scale(1,1.100)" text-anchor="middle" fill="#262626" stroke="#fff" stroke-width="0.55">120</text>
<text transform="translate(2087.8,790.1) scale(1,1.100)" text-anchor="middle" fill="#262626" stroke="#fff" stroke-width="0.55">140</text>
<text transform="translate(2201.5,790.1) scale(1,1.100)" text-anchor="middle" fill="#262626" stroke="#fff" stroke-width="0.55">160</text>
<text transform="translate(2315.2,790.1) scale(1,1.100)" text-anchor="middle" fill="#262626" stroke="#fff" stroke-width="0.55">180</text>
<text transform="translate(1271.1,732.0) scale(1,1.100)" text-anchor="end" fill="#262626" stroke="#fff" stroke-width="0.55">0</text>
<text transform="translate(1271.1,600.4) scale(1,1.100)" text-anchor="end" fill="#262626" stroke="#fff" stroke-width="0.55">0.2</text>
<text transform="translate(1271.1,468.7) scale(1,1.100)" text-anchor="end" fill="#262626" stroke="#fff" stroke-width="0.55">0.4</text>
<text transform="translate(1271.1,337.1) scale(1,1.100)" text-anchor="end" fill="#262626" stroke="#fff" stroke-width="0.55">0.6</text>
<text transform="translate(1271.1,205.4) scale(1,1.100)" text-anchor="end" fill="#262626" stroke="#fff" stroke-width="0.55">0.8</text>
<text transform="translate(1271.1,73.8) scale(1,1.100)" text-anchor="end" fill="#262626" stroke="#fff" stroke-width="0.55">1</text>
<ellipse cx="1421.9" cy="126.9" rx="15.2" ry="16.6" fill="#1f68e6"/>
<polygon points="1421.9,182.0 1425.4,192.4 1435.9,192.6 1427.5,199.2 1430.5,209.7 1421.9,203.4 1413.3,209.7 1416.3,199.2 1407.9,192.6 1418.4,192.4" fill="#ff0000"/>
<rect x="1344.9" y="259.9" width="154.4" height="11" fill="#00ce0a"/>
<text transform="translate(1509.9,148.1) scale(1,1.100)" text-anchor="start" fill="#000">GPS L2</text>
<text transform="translate(1510.9,217.1) scale(1,1.110)" text-anchor="start" fill="#000" font-size="53.5">In-situ values</text>
<text transform="translate(1509.9,286.4) scale(1,1.100)" text-anchor="start" fill="#000">GDD model</text>
<rect x="568.5" y="1416.4" width="1334.0" height="3.2" fill="#e4e4e4"/>
<rect x="568.5" y="1285.6" width="1334.0" height="3.2" fill="#e4e4e4"/>
<rect x="568.5" y="1154.9" width="1334.0" height="3.2" fill="#e4e4e4"/>
<rect x="568.5" y="1024.1" width="1334.0" height="3.2" fill="#e4e4e4"/>
<rect x="568.5" y="893.3" width="1334.0" height="3.2" fill="#e4e4e4"/>
<g stroke="#7a7a7a" stroke-width="4.2">
<line x1="716.7" y1="1547.8" x2="716.7" y2="1532.4"/>
<line x1="716.7" y1="864.7" x2="716.7" y2="880.1"/>
<line x1="864.9" y1="1547.8" x2="864.9" y2="1532.4"/>
<line x1="864.9" y1="864.7" x2="864.9" y2="880.1"/>
<line x1="1013.2" y1="1547.8" x2="1013.2" y2="1532.4"/>
<line x1="1013.2" y1="864.7" x2="1013.2" y2="880.1"/>
<line x1="1161.4" y1="1547.8" x2="1161.4" y2="1532.4"/>
<line x1="1161.4" y1="864.7" x2="1161.4" y2="880.1"/>
<line x1="1309.6" y1="1547.8" x2="1309.6" y2="1532.4"/>
<line x1="1309.6" y1="864.7" x2="1309.6" y2="880.1"/>
<line x1="1457.8" y1="1547.8" x2="1457.8" y2="1532.4"/>
<line x1="1457.8" y1="864.7" x2="1457.8" y2="880.1"/>
<line x1="1606.1" y1="1547.8" x2="1606.1" y2="1532.4"/>
<line x1="1606.1" y1="864.7" x2="1606.1" y2="880.1"/>
<line x1="1754.3" y1="1547.8" x2="1754.3" y2="1532.4"/>
<line x1="1754.3" y1="864.7" x2="1754.3" y2="880.1"/>
</g><g stroke="#4a4a4a" stroke-width="3.4">
<line x1="568.5" y1="1417.8" x2="583.9" y2="1417.8"/>
<line x1="1902.5" y1="1417.8" x2="1887.1" y2="1417.8"/>
<line x1="568.5" y1="1287.0" x2="583.9" y2="1287.0"/>
<line x1="1902.5" y1="1287.0" x2="1887.1" y2="1287.0"/>
<line x1="568.5" y1="1156.3" x2="583.9" y2="1156.3"/>
<line x1="1902.5" y1="1156.3" x2="1887.1" y2="1156.3"/>
<line x1="568.5" y1="1025.5" x2="583.9" y2="1025.5"/>
<line x1="1902.5" y1="1025.5" x2="1887.1" y2="1025.5"/>
<line x1="568.5" y1="894.7" x2="583.9" y2="894.7"/>
<line x1="1902.5" y1="894.7" x2="1887.1" y2="894.7"/>
</g>
<rect x="567.0" y="863.2" width="3.0" height="686.0" fill="#3a3a3a"/>
<rect x="567.0" y="863.2" width="1337.0" height="2.9" fill="#555"/>
<rect x="570.0" y="866.1" width="1331.0" height="2.4" fill="#d0d0d0"/>
<rect x="1901.0" y="863.2" width="3.0" height="686.0" fill="#444"/>
<rect x="567.0" y="1546.3" width="1337.0" height="2.9" fill="#444"/>
<rect x="567.0" y="1549.2" width="1337.0" height="2.2" fill="#e6e6e6"/>
<g fill="#1f68e6">
<circle cx="575.9" cy="1453.9" r="11.1"/>
<circle cx="583.3" cy="1472.6" r="11.1"/>
<circle cx="590.7" cy="1463.8" r="11.1"/>
<circle cx="598.1" cy="1459.4" r="11.1"/>
<circle cx="605.6" cy="1439.1" r="11.1"/>
<circle cx="613.0" cy="1477.0" r="11.1"/>
<circle cx="620.4" cy="1481.4" r="11.1"/>
<circle cx="627.8" cy="1455.0" r="11.1"/>
<circle cx="635.2" cy="1466.0" r="11.1"/>
<circle cx="642.6" cy="1467.1" r="11.1"/>
<circle cx="650.0" cy="1453.9" r="11.1"/>
<circle cx="657.4" cy="1457.2" r="11.1"/>
<circle cx="664.8" cy="1463.8" r="11.1"/>
<circle cx="672.3" cy="1471.5" r="11.1"/>
<circle cx="679.7" cy="1463.8" r="11.1"/>
<circle cx="687.1" cy="1455.0" r="11.1"/>
<circle cx="694.5" cy="1472.6" r="11.1"/>
<circle cx="701.9" cy="1458.3" r="11.1"/>
<circle cx="709.3" cy="1461.6" r="11.1"/>
<circle cx="716.7" cy="1466.0" r="11.1"/>
<circle cx="724.1" cy="1468.2" r="11.1"/>
<circle cx="731.5" cy="1469.3" r="11.1"/>
<circle cx="739.0" cy="1461.6" r="11.1"/>
<circle cx="746.4" cy="1455.0" r="11.1"/>
<circle cx="753.8" cy="1450.5" r="11.1"/>
<circle cx="761.2" cy="1450.5" r="11.1"/>
<circle cx="768.6" cy="1451.6" r="11.1"/>
<circle cx="776.0" cy="1481.9" r="11.1"/>
<circle cx="783.4" cy="1450.5" r="11.1"/>
<circle cx="790.8" cy="1452.8" r="11.1"/>
<circle cx="798.2" cy="1459.4" r="11.1"/>
<circle cx="805.7" cy="1466.0" r="11.1"/>
<circle cx="813.1" cy="1457.2" r="11.1"/>
<circle cx="820.5" cy="1474.8" r="11.1"/>
<circle cx="827.9" cy="1477.0" r="11.1"/>
<circle cx="835.3" cy="1461.6" r="11.1"/>
<circle cx="842.7" cy="1483.6" r="11.1"/>
<circle cx="850.1" cy="1477.0" r="11.1"/>
<circle cx="857.5" cy="1474.8" r="11.1"/>
<circle cx="864.9" cy="1468.2" r="11.1"/>
<circle cx="872.4" cy="1466.0" r="11.1"/>
<circle cx="879.8" cy="1469.3" r="11.1"/>
<circle cx="887.2" cy="1463.8" r="11.1"/>
<circle cx="894.6" cy="1466.0" r="11.1"/>
<circle cx="902.0" cy="1472.6" r="11.1"/>
<circle cx="909.4" cy="1478.1" r="11.1"/>
<circle cx="916.8" cy="1479.2" r="11.1"/>
<circle cx="924.2" cy="1479.2" r="11.1"/>
<circle cx="931.6" cy="1468.2" r="11.1"/>
<circle cx="939.1" cy="1466.0" r="11.1"/>
<circle cx="946.5" cy="1472.6" r="11.1"/>
<circle cx="953.9" cy="1468.2" r="11.1"/>
<circle cx="961.3" cy="1466.0" r="11.1"/>
<circle cx="968.7" cy="1470.4" r="11.1"/>
<circle cx="976.1" cy="1479.2" r="11.1"/>
<circle cx="983.5" cy="1472.6" r="11.1"/>
<circle cx="990.9" cy="1463.8" r="11.1"/>
<circle cx="998.3" cy="1461.6" r="11.1"/>
<circle cx="1005.8" cy="1463.8" r="11.1"/>
<circle cx="1013.2" cy="1464.9" r="11.1"/>
<circle cx="1020.6" cy="1455.0" r="11.1"/>
<circle cx="1028.0" cy="1452.8" r="11.1"/>
<circle cx="1035.4" cy="1436.2" r="11.1"/>
<circle cx="1042.8" cy="1446.1" r="11.1"/>
<circle cx="1050.2" cy="1450.5" r="11.1"/>
<circle cx="1057.6" cy="1450.5" r="11.1"/>
<circle cx="1035.3" cy="1436.2" r="11.1"/>
<circle cx="1020.9" cy="1452.7" r="11.1"/>
<circle cx="1050.7" cy="1450.5" r="11.1"/>
<circle cx="1057.3" cy="1287.4" r="11.1"/>
<circle cx="1066.1" cy="1285.2" r="11.1"/>
<circle cx="1075.0" cy="1294.0" r="11.1"/>
<circle cx="1079.4" cy="1309.4" r="11.1"/>
<circle cx="1088.2" cy="1324.9" r="11.1"/>
<circle cx="1094.8" cy="1311.6" r="11.1"/>
<circle cx="1101.4" cy="1289.6" r="11.1"/>
<circle cx="1110.2" cy="1289.6" r="11.1"/>
<circle cx="1123.5" cy="1287.4" r="11.1"/>
<circle cx="1136.7" cy="1294.0" r="11.1"/>
<circle cx="1143.3" cy="1298.4" r="11.1"/>
<circle cx="1117.5" cy="1261.6" r="11.1"/>
<circle cx="1154.3" cy="1245.9" r="11.1"/>
<circle cx="1162.0" cy="1183.8" r="11.1"/>
<circle cx="1169.8" cy="1159.5" r="11.1"/>
<circle cx="1176.4" cy="1146.3" r="11.1"/>
<circle cx="1187.4" cy="1166.1" r="11.1"/>
<circle cx="1198.4" cy="1152.9" r="11.1"/>
<circle cx="1205.0" cy="1163.9" r="11.1"/>
<circle cx="1211.6" cy="1177.2" r="11.1"/>
<circle cx="1220.5" cy="1181.6" r="11.1"/>
<circle cx="1228.2" cy="1157.3" r="11.1"/>
<circle cx="1233.7" cy="1170.5" r="11.1"/>
<circle cx="1242.5" cy="1170.5" r="11.1"/>
<circle cx="1246.9" cy="1188.2" r="11.1"/>
<circle cx="1257.9" cy="1143.0" r="11.1"/>
<circle cx="1257.9" cy="1192.6" r="11.1"/>
<circle cx="1271.2" cy="1194.8" r="11.1"/>
<circle cx="1280.0" cy="1168.3" r="11.1"/>
<circle cx="1288.8" cy="1166.1" r="11.1"/>
<circle cx="1295.4" cy="1155.1" r="11.1"/>
<circle cx="1302.0" cy="1163.9" r="11.1"/>
<circle cx="1326.3" cy="1146.3" r="11.1"/>
<circle cx="1339.5" cy="1138.6" r="11.1"/>
<circle cx="1370.4" cy="1154.0" r="11.1"/>
<circle cx="1357.1" cy="1157.3" r="11.1"/>
<circle cx="1319.7" cy="1172.8" r="11.1"/>
<circle cx="1309.7" cy="1221.3" r="11.1"/>
<circle cx="1331.8" cy="1220.1" r="11.1"/>
<circle cx="1383.6" cy="1220.1" r="11.1"/>
<circle cx="1399.0" cy="1213.5" r="11.1"/>
<circle cx="1643.7" cy="864.3" r="11.1"/>
<circle cx="1672.9" cy="897.7" r="11.1"/>
<circle cx="1413.8" cy="985.9" r="11.1"/>
<circle cx="1524.8" cy="992.8" r="11.1"/>
<circle cx="1584.2" cy="996.2" r="11.1"/>
<circle cx="1595.8" cy="1006.6" r="11.1"/>
<circle cx="1606.6" cy="1015.8" r="11.1"/>
<circle cx="1635.6" cy="1015.4" r="11.1"/>
<circle cx="1657.9" cy="1025.7" r="11.1"/>
<circle cx="1443.8" cy="1035.4" r="11.1"/>
<circle cx="1405.8" cy="1056.1" r="11.1"/>
<circle cx="1421.9" cy="1053.8" r="11.1"/>
<circle cx="1429.9" cy="1071.1" r="11.1"/>
<circle cx="1450.7" cy="1075.7" r="11.1"/>
<circle cx="1436.8" cy="1094.1" r="11.1"/>
<circle cx="1469.1" cy="1071.1" r="11.1"/>
<circle cx="1480.6" cy="1057.3" r="11.1"/>
<circle cx="1494.4" cy="1048.1" r="11.1"/>
<circle cx="1503.6" cy="1052.7" r="11.1"/>
<circle cx="1510.5" cy="1066.5" r="11.1"/>
<circle cx="1517.5" cy="1030.8" r="11.1"/>
<circle cx="1531.3" cy="1027.3" r="11.1"/>
<circle cx="1547.4" cy="1022.7" r="11.1"/>
<circle cx="1552.0" cy="1036.5" r="11.1"/>
<circle cx="1558.9" cy="1045.8" r="11.1"/>
<circle cx="1540.5" cy="1058.4" r="11.1"/>
<circle cx="1565.8" cy="1057.3" r="11.1"/>
<circle cx="1576.2" cy="1036.5" r="11.1"/>
<circle cx="1613.0" cy="1046.9" r="11.1"/>
<circle cx="1621.1" cy="1057.3" r="11.1"/>
<circle cx="1629.2" cy="1067.6" r="11.1"/>
<circle cx="1598.5" cy="1080.3" r="11.1"/>
<circle cx="1695.5" cy="1119.9" r="11.1"/>
<circle cx="1650.3" cy="1147.1" r="11.1"/>
<circle cx="1666.0" cy="1150.6" r="11.1"/>
<circle cx="1680.5" cy="1207.0" r="11.1"/>
<circle cx="1689.0" cy="1225.4" r="11.1"/>
<circle cx="1400.0" cy="1213.9" r="11.1"/>
<circle cx="1702.5" cy="1445.3" r="11.1"/>
<circle cx="1710.8" cy="1438.3" r="11.1"/>
<circle cx="1717.9" cy="1432.3" r="11.1"/>
<circle cx="1725.0" cy="1486.7" r="11.1"/>
<circle cx="1813.1" cy="1453.6" r="11.1"/>
<circle cx="1821.9" cy="1463.1" r="11.1"/>
<circle cx="1827.8" cy="1471.3" r="11.1"/>
<circle cx="1836.1" cy="1457.2" r="11.1"/>
<circle cx="1843.2" cy="1470.2" r="11.1"/>
<circle cx="1376.2" cy="962.7" r="11.1"/>
<circle cx="1391.5" cy="953.0" r="11.1"/>
<circle cx="1413.4" cy="986.2" r="11.1"/>
<circle cx="1354.6" cy="1050.6" r="11.1"/>
<circle cx="1443.1" cy="1035.0" r="11.1"/>
<circle cx="1404.7" cy="1056.1" r="11.1"/>
<circle cx="1420.8" cy="1052.7" r="11.1"/>
<circle cx="1360.8" cy="1095.9" r="11.1"/>
<circle cx="1438.2" cy="1095.2" r="11.1"/>
<circle cx="1538.6" cy="1058.9" r="11.1"/>
</g>
<g fill="#ff0000">
<polygon points="1042.8,1339.9 1048.8,1360.2 1068.1,1360.2 1052.5,1372.8 1058.4,1393.1 1042.8,1380.5 1027.2,1393.1 1033.1,1372.8 1017.5,1360.2 1036.8,1360.2"/>
<polygon points="1079.9,1334.7 1085.8,1355.0 1105.2,1355.0 1089.5,1367.5 1095.5,1387.8 1079.9,1375.3 1064.2,1387.8 1070.2,1367.5 1054.6,1355.0 1073.9,1355.0"/>
<polygon points="1116.9,1309.8 1122.9,1330.1 1142.2,1330.1 1126.6,1342.7 1132.6,1363.0 1116.9,1350.4 1101.3,1363.0 1107.3,1342.7 1091.6,1330.1 1110.9,1330.1"/>
<polygon points="1154.0,1283.7 1160.0,1304.0 1179.3,1304.0 1163.6,1316.5 1169.6,1336.8 1154.0,1324.3 1138.3,1336.8 1144.3,1316.5 1128.7,1304.0 1148.0,1304.0"/>
<polygon points="1191.0,1242.5 1197.0,1262.8 1216.3,1262.8 1200.7,1275.3 1206.7,1295.6 1191.0,1283.1 1175.4,1295.6 1181.4,1275.3 1165.7,1262.8 1185.1,1262.8"/>
<polygon points="1228.1,1238.2 1234.1,1258.5 1253.4,1258.5 1237.8,1271.1 1243.7,1291.4 1228.1,1278.8 1212.5,1291.4 1218.4,1271.1 1202.8,1258.5 1222.1,1258.5"/>
<polygon points="1272.6,1179.7 1278.5,1200.0 1297.9,1200.0 1282.2,1212.5 1288.2,1232.9 1272.6,1220.3 1256.9,1232.9 1262.9,1212.5 1247.3,1200.0 1266.6,1200.0"/>
<polygon points="1309.6,1166.0 1315.6,1186.3 1334.9,1186.3 1319.3,1198.8 1325.2,1219.1 1309.6,1206.6 1294.0,1219.1 1299.9,1198.8 1284.3,1186.3 1303.6,1186.3"/>
<polygon points="1346.7,1149.6 1352.6,1169.9 1372.0,1169.9 1356.3,1182.5 1362.3,1202.8 1346.7,1190.2 1331.0,1202.8 1337.0,1182.5 1321.4,1169.9 1340.7,1169.9"/>
<polygon points="1383.7,1060.7 1389.7,1081.0 1409.0,1081.0 1393.4,1093.5 1399.4,1113.8 1383.7,1101.3 1368.1,1113.8 1374.1,1093.5 1358.4,1081.0 1377.7,1081.0"/>
<polygon points="1420.8,1054.8 1426.8,1075.1 1446.1,1075.1 1430.4,1087.7 1436.4,1108.0 1420.8,1095.4 1405.1,1108.0 1411.1,1087.7 1395.5,1075.1 1414.8,1075.1"/>
<polygon points="1457.8,1060.7 1463.8,1081.0 1483.1,1081.0 1467.5,1093.5 1473.5,1113.8 1457.8,1101.3 1442.2,1113.8 1448.2,1093.5 1432.5,1081.0 1451.9,1081.0"/>
<polygon points="1487.5,1064.6 1493.5,1084.9 1512.8,1084.9 1497.1,1097.5 1503.1,1117.8 1487.5,1105.2 1471.8,1117.8 1477.8,1097.5 1462.2,1084.9 1481.5,1084.9"/>
<polygon points="1554.2,1060.7 1560.2,1081.0 1579.5,1081.0 1563.8,1093.5 1569.8,1113.8 1554.2,1101.3 1538.5,1113.8 1544.5,1093.5 1528.9,1081.0 1548.2,1081.0"/>
</g>
<polyline points="575.9,1472.6 598.1,1470.0 627.8,1467.9 687.1,1465.7 768.6,1462.0 835.3,1457.8 864.9,1454.0 892.4,1448.4 916.8,1448.1 939.1,1448.1 959.1,1445.7 970.9,1442.5 982.8,1438.4 994.6,1431.7 1006.5,1424.4 1030.2,1407.5 1053.9,1389.4 1073.2,1372.5 1092.5,1350.1 1111.0,1327.7 1122.9,1317.8 1144.3,1312.3 1165.8,1303.8 1184.4,1288.5 1208.1,1267.5 1231.8,1247.9 1252.5,1229.9 1269.6,1214.5 1285.9,1196.3 1297.8,1182.3 1307.4,1171.1 1314.8,1164.1 1326.7,1157.1 1349.6,1146.5 1378.5,1134.6 1402.2,1124.1 1426.0,1115.0 1447.5,1109.4 1471.2,1103.7 1494.1,1097.4 1518.6,1093.3 1544.5,1091.2 1577.9,1089.1 1613.5,1087.7 1665.3,1086.1" fill="none" stroke="#00ce0a" stroke-width="10.6" stroke-linejoin="round"/>
<text transform="translate(568.5,1625.0) scale(1,1.100)" text-anchor="middle" fill="#262626" stroke="#fff" stroke-width="0.55">0</text>
<text transform="translate(716.7,1625.0) scale(1,1.100)" text-anchor="middle" fill="#262626" stroke="#fff" stroke-width="0.55">20</text>
<text transform="translate(864.9,1625.0) scale(1,1.100)" text-anchor="middle" fill="#262626" stroke="#fff" stroke-width="0.55">40</text>
<text transform="translate(1013.2,1625.0) scale(1,1.100)" text-anchor="middle" fill="#262626" stroke="#fff" stroke-width="0.55">60</text>
<text transform="translate(1161.4,1625.0) scale(1,1.100)" text-anchor="middle" fill="#262626" stroke="#fff" stroke-width="0.55">80</text>
<text transform="translate(1309.6,1625.0) scale(1,1.100)" text-anchor="middle" fill="#262626" stroke="#fff" stroke-width="0.55">100</text>
<text transform="translate(1457.8,1625.0) scale(1,1.100)" text-anchor="middle" fill="#262626" stroke="#fff" stroke-width="0.55">120</text>
<text transform="translate(1606.1,1625.0) scale(1,1.100)" text-anchor="middle" fill="#262626" stroke="#fff" stroke-width="0.55">140</text>
<text transform="translate(1754.3,1625.0) scale(1,1.100)" text-anchor="middle" fill="#262626" stroke="#fff" stroke-width="0.55">160</text>
<text transform="translate(1902.5,1625.0) scale(1,1.100)" text-anchor="middle" fill="#262626" stroke="#fff" stroke-width="0.55">180</text>
<text transform="translate(547.0,1570.4) scale(1,1.100)" text-anchor="end" fill="#262626" stroke="#fff" stroke-width="0.55">0</text>
<text transform="translate(547.0,1439.6) scale(1,1.100)" text-anchor="end" fill="#262626" stroke="#fff" stroke-width="0.55">0.2</text>
<text transform="translate(547.0,1308.8) scale(1,1.100)" text-anchor="end" fill="#262626" stroke="#fff" stroke-width="0.55">0.4</text>
<text transform="translate(547.0,1178.1) scale(1,1.100)" text-anchor="end" fill="#262626" stroke="#fff" stroke-width="0.55">0.6</text>
<text transform="translate(547.0,1047.3) scale(1,1.100)" text-anchor="end" fill="#262626" stroke="#fff" stroke-width="0.55">0.8</text>
<text transform="translate(547.0,916.5) scale(1,1.100)" text-anchor="end" fill="#262626" stroke="#fff" stroke-width="0.55">1</text>
<ellipse cx="701.9" cy="939.5" rx="15.2" ry="16.6" fill="#1f68e6"/>
<polygon points="701.9,994.6 705.4,1005.0 715.9,1005.2 707.5,1011.8 710.5,1022.3 701.9,1016.0 693.3,1022.3 696.3,1011.8 687.9,1005.2 698.4,1005.0" fill="#ff0000"/>
<rect x="624.9" y="1072.5" width="154.4" height="11" fill="#00ce0a"/>
<text transform="translate(789.9,960.7) scale(1,1.100)" text-anchor="start" fill="#000">GPS L5</text>
<text transform="translate(790.9,1029.7) scale(1,1.110)" text-anchor="start" fill="#000" font-size="53.5">In-situ values</text>
<text transform="translate(789.9,1099.0) scale(1,1.100)" text-anchor="start" fill="#000">GDD model</text>
<text transform="translate(68.2,380.0) scale(1,1.060) rotate(-90)" text-anchor="middle" fill="#262626" stroke="#fff" stroke-width="0.55">Wheat height/m</text>
<text transform="translate(445.6,1207.0) scale(1,1.060) rotate(-90)" text-anchor="middle" fill="#262626" stroke="#fff" stroke-width="0.55">Wheat height/m</text>
<text transform="translate(1237.0,1695.5) scale(1,1.060)" text-anchor="middle" fill="#262626" stroke="#fff" stroke-width="0.55">DOY/d</text>
</svg>
</body></html>
